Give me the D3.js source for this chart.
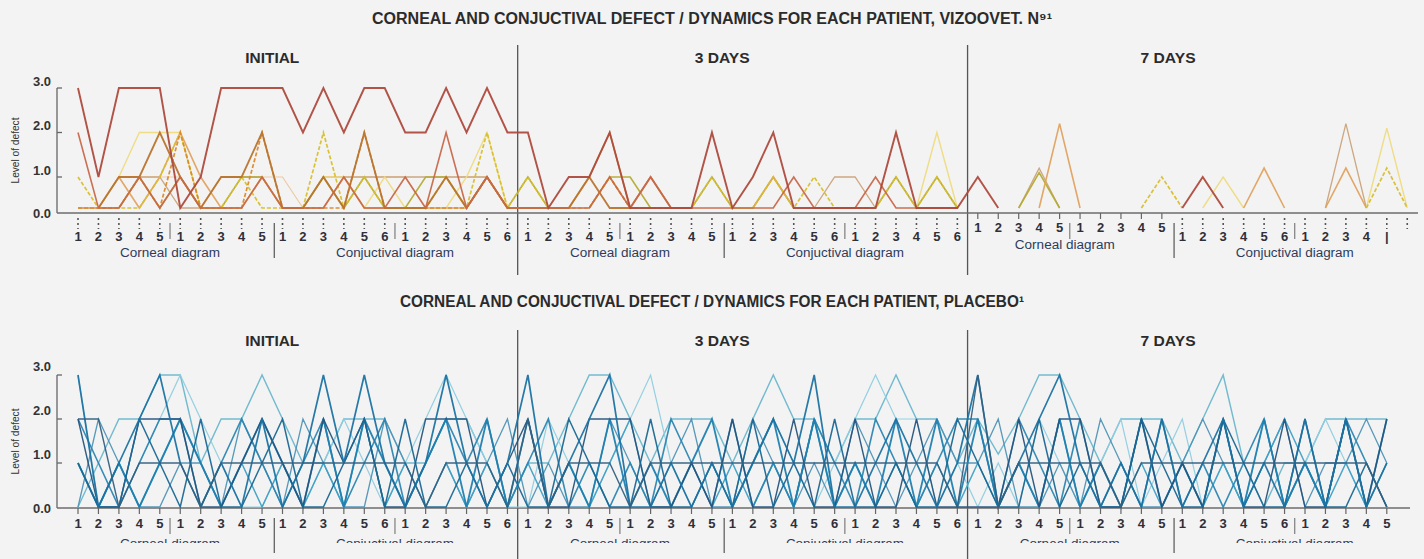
<!DOCTYPE html>
<html><head><meta charset="utf-8">
<script src="https://cdn.jsdelivr.net/npm/d3@7"></script>
<style>
body{margin:0;background:#f3f3f3;}
svg{display:block;}
text{font-family:"Liberation Sans","DejaVu Sans",sans-serif;}
</style></head><body>
<svg id="c" width="1424" height="559"></svg>
<script>
// ---------- DATA ----------
const titles = ["CORNEAL AND CONJUCTIVAL DEFECT / DYNAMICS FOR EACH PATIENT, VIZOOVET. N\u2079\u00B9",
                "CORNEAL AND CONJUCTIVAL DEFECT / DYNAMICS FOR EACH PATIENT, PLACEBO\u00B9"];
const periods = ["INITIAL", "3 DAYS", "7 DAYS"];
const groupNames = ["Corneal diagram", "Conjuctival diagram"];
const yTicks = [0, 1, 2, 3];
const yTitle = "Level of defect";
const periodLabels = ["1","2","3","4","5","1","2","3","4","5","1","2","3","4","5","6","1","2","3","4","5","6"];
const topLabels7 = ["1","2","3","4","5","1","2","3","4","5","1","2","3","4","5","6","1","2","3","4","|",""];
const bottomLabels7 = ["1","2","3","4","5","1","2","3","4","5","1","2","3","4","5","6","1","2","3","4","5"];
const topLabels = periodLabels.concat(periodLabels, topLabels7);
const bottomLabels = periodLabels.concat(periodLabels, bottomLabels7);

const _ = null;
// Vizoovet patients (66 slots)
const viz1 = [3,1,3,3,3,0,1,3,3,3,3,2,3,2,3,3,2,2,3,2,3,2, 2,0,1,1,2,0,0,0,0,2,0,1,2,0,0,0,0,0,2,0,0,0, 1,0,_,_,_,_,_,_,_,_,0,1,0,_,_,_,_,_,_,_,_,_];
const viz2 = [2,0,0,1,0,1,0,0,0,1,0,0,0,1,0,0,1,0,2,0,1,0, 0,0,0,0,1,0,1,0,0,0,0,0,0,1,0,0,0,1,0,0,0,0, _,_,_,_,_,_,_,_,_,_,_,_,_,_,_,_,_,_,_,_,_,_];
const viz3 = [_,0,1,1,2,1,0,1,1,2,0,0,1,0,2,0,0,0,1,0,1,0, 0,0,0,1,0,0,1,0,_,_,_,_,_,_,_,_,_,_,_,_,_,_, _,_,_,_,_,_,_,_,_,_,_,_,_,_,_,_,_,_,_,_,_,_];
const viz4 = [0,0,0,1,0,2,0,0,0,2,0,0,0,0,2,0,0,0,0,0,1,0, _,_,_,0,1,0,_,_,_,_,_,_,_,_,_,_,_,_,_,_,_,_, _,_,_,_,_,_,_,_,_,_,_,_,_,_,_,_,_,_,_,_,_,_];
const viz5 = [1,0,0,0,1,2,0,0,1,0,0,0,2,0,1,0,0,0,1,0,2,0, 1,0,0,0,1,0,0,0,0,1,0,0,1,0,1,0,0,0,1,0,1,0, _,_,_,_,_,_,_,_,0,1,0,_,_,_,_,_,_,_,_,0,1.2,0];
const viz6 = [_,0,1,2,2,2,0,0,0,1,0,0,1,1,0,1,0,0,0,1,2,0, 0,0,0,1,2,0,_,_,_,_,_,_,_,_,_,_,_,_,_,0,2,0, _,_,_,_,_,_,_,_,_,_,_,0,1,0,_,_,_,_,_,0,2.1,0];
const viz7 = [0,0,0,1,1,0,0,1,1,1,0,0,1,1,1,1,1,1,1,1,1,0, _,_,_,_,_,_,_,_,_,_,_,_,_,_,0,1,1,0,_,_,_,_, _,_,0,1.2,0,_,_,_,_,_,_,_,_,_,_,_,_,0,2.2,0,_,_];
const viz8 = [0,0,1,0,1,2,1,0,0,1,0,0,0,1,0,0,0,0,0,0,1,0, _,_,0,1,2,0,_,_,_,_,_,0,1,0,_,_,_,_,_,_,_,_, _,_,_,0,2.2,0,_,_,_,_,_,_,_,0,1.2,0,_,0,1.2,0,_,_];
const viz9 = [_,_,0,1,0,1,0,0,1,1,0,0,1,0,1,0,0,1,1,0,1,0, 1,0,_,0,1,1,0,_,0,1,0,0,1,0,_,_,_,0,1,0,1,0, _,_,0,1.1,0,_,_,_,_,_,_,_,_,_,_,_,_,_,_,_,_,_];
const viz10 = [_,_,1,1,1,1,0,0,0,1,1,0,0,1,1,1,1,0,1,1,1,0, _,_,_,_,_,_,_,_,_,_,_,_,_,_,_,_,_,_,_,_,_,_, _,_,_,_,_,_,_,_,_,_,_,_,_,_,_,_,_,_,_,_,_,_];

// Placebo patients (65 slots)
const pla1 = [0,1,2,2,3,3,1,2,2,3,2,1,1,2,2,2,1,1,2,2,1,0, 1,1,2,3,3,2,1,2,2,2,1,2,3,2,2,1,2,2,3,2,2,1, 2,1.2,2,3,3,2,1,2,2,2,1,2,3,1,0,1,1,2,2,2,2];
const pla2 = [2,2,0,1,1,1,0,1,1,1,1,1,1,1,1,1,1,0,1,1,1,0, 2,0,1,1,1,0,1,1,1,1,1,1,1,1,1,1,1,1,1,1,1,0, 3,0,1,1,1,1,1,0,1,1,1,1,1,1,1,1,1,1,1,1,0];
const pla3 = [1,0,1,0,1,2,1,0,1,2,1,0,2,0,2,1,0,1,2,0,2,0, 2,0,1,0,2,0,1,0,1,2,0,1,2,0,2,0,1,0,2,0,2,0, 2,0,1,0,2,0,1,0,2,0,1,0,2,0,2,0,1,0,2,0,2];
const pla4 = [3,0,1,2,3,1,0,1,0,2,0,1,3,1,3,1,0,1,3,1,0,1, 3,0,1,2,3,0,0,1,0,1,0,1,2,1,3,0,0,1,2,1,0,1, 3,0,1,2,3,1,0,1,0,2,0,1,2,0,1,0,2,0,2,0,1];
const pla5 = [1,0,1,0,1,2,1,0,1,0,1,0,1,0,2,0,1,0,1,0,1,0, 1,0,1,0,1,2,0,0,1,0,1,0,1,0,2,0,1,0,1,0,1,0, 1,0,1,0,2,0,1,0,1,0,1,0,1,0,1,2,1,0,1,0,1];
const pla6 = [2,0,0,2,2,2,0,0,1,2,1,0,2,1,2,0,0,2,2,2,0,1, 2,0,0,2,2,2,0,0,1,0,2,0,0,2,0,0,2,0,0,2,0,0, 0,0,2,0,2,2,0,0,2,0,1,0,2,0,0,2,0,0,2,0,2];
const pla7 = [3,0,0,1,2,3,2,1,0,0,1,0,1,2,1,0,1,2,3,2,1,0, 0,2,1,0,1,2,3,1,0,1,0,1,2,1,0,1,2,3,2,2,0,1, 0,1,0,2,1,0,1,2,0,1,2,0,1,0,2,0,1,2,1,0,1];
const pla8 = [2,1,0,1,2,2,0,1,2,1,0,1,2,0,1,2,0,1,2,1,2,0, 1,2,0,1,0,1,0,2,1,0,2,0,1,0,2,1,0,2,1,0,1,2, 2,0,2,1,0,2,0,1,0,2,0,1,0,1,2,0,1,0,2,1,0];
const pla9 = [0,2,1,0,0,1,1,0,2,1,0,2,1,0,0,2,1,0,1,0,1,2, 0,1,0,0,2,1,0,1,2,0,0,2,1,0,1,0,2,1,0,1,2,1, 1,2,0,0,1,0,2,1,0,0,1,2,1,0,1,2,0,1,1,2,1];
const pla10 = [1,0,0,2,1,0,2,0,0,1,2,0,0,1,2,0,2,0,0,1,0,1, 0,0,2,1,0,0,2,0,0,1,0,2,0,1,0,2,0,0,1,0,0,2, 1,0,0,2,0,1,0,0,2,1,0,0,2,1,0,0,2,0,0,1,0];

const vizSeries = [viz10, viz7, viz6, viz9, viz8, viz5, viz4, viz3, viz2, viz1];
const plaSeries = [pla1, pla7, pla9, pla5, pla8, pla3, pla6, pla10, pla4, pla2];

// ---------- STYLE ----------
const vizStyle = [
  {c:"#edc79e", w:1.2}, {c:"#caa27a", w:1.3}, {c:"#eedb80", w:1.4}, {c:"#b3ab34", w:1.6},
  {c:"#e0a25e", w:1.6}, {c:"#d8bf2c", w:1.7, d:"4,2"}, {c:"#d98a2b", w:1.7, d:"4,2"},
  {c:"#b8742e", w:1.8}, {c:"#c8684a", w:1.6}, {c:"#ad4a3c", w:1.9}
];
const plaStyle = [
  {c:"#6ab6cc", w:1.4}, {c:"#8fcde0", w:1.2}, {c:"#4f93b6", w:1.3}, {c:"#3fa0c6", w:1.5},
  {c:"#2c86b2", w:1.6}, {c:"#1f80b0", w:1.8}, {c:"#26547e", w:1.4}, {c:"#1a6794", w:1.5},
  {c:"#1b72a2", w:1.7}, {c:"#34607f", w:1.4}
];

const svg = d3.select("#c");
const x = d3.scaleLinear().domain([0, 65]).range([78, 78 + 65 * 20.45]);

function drawChart(cfg) {
  const g = svg.append("g");
  const y = cfg.y;
  // title
  g.append("text").attr("x", cfg.titleX).attr("y", cfg.titleY)
    .attr("font-size", 16).attr("font-weight", "bold").attr("fill", "#2b2b2b")
    .attr("textLength", cfg.titleW).attr("lengthAdjust", "spacingAndGlyphs").text(cfg.title);
  // period headings
  periods.forEach((p, k) => {
    g.append("text").attr("x", x(k * 22 + 9.5) + (k === 2 ? -4 : 0)).attr("y", cfg.headY)
      .attr("text-anchor", "middle").attr("font-size", 15).attr("font-weight", "bold")
      .attr("fill", "#2b2b2b").attr("textLength", p === "INITIAL" ? 54 : 55)
      .attr("lengthAdjust", "spacingAndGlyphs").text(p);
  });
  // period separators
  [21.5, 43.5].forEach(s => {
    g.append("line").attr("x1", x(s)).attr("x2", x(s)).attr("y1", cfg.sepTop).attr("y2", cfg.sepBottom)
      .attr("stroke", "#555").attr("stroke-width", 1.3);
  });
  // y axis bracket
  const y0 = cfg.axisY;
  g.append("line").attr("x1", 57).attr("x2", 57).attr("y1", y(3)).attr("y2", y0).attr("stroke", "#666").attr("stroke-width", 1.3);
  yTicks.forEach(t => {
    if (t > 0) g.append("line").attr("x1", 57).attr("x2", 62).attr("y1", y(t)).attr("y2", y(t)).attr("stroke", "#666").attr("stroke-width", 1.3);
    g.append("text").attr("x", 51).attr("y", t === 0 ? y0 : y(t) - cfg.labOff).attr("dy", "0.35em")
      .attr("text-anchor", "end").attr("font-size", 13).attr("font-weight", "bold").attr("fill", "#333")
      .attr("textLength", 18).attr("lengthAdjust", "spacingAndGlyphs")
      .text(d3.format(".1f")(t));
  });
  g.append("text").attr("transform", `translate(19,${(y(3) + y0) / 2}) rotate(-90)`)
    .attr("text-anchor", "middle").attr("font-size", 11).attr("fill", "#333")
    .attr("textLength", 66).attr("lengthAdjust", "spacingAndGlyphs").text(yTitle);
  // x axis line
  g.append("line").attr("x1", 57).attr("x2", cfg.axisEnd).attr("y1", y0).attr("y2", y0)
    .attr("stroke", "#6d6d6d").attr("stroke-width", 1.6);

  // series
  const line = d3.line().defined(d => d != null).x((d, i) => x(i)).y(d => y(d));
  cfg.series.forEach((s, k) => {
    const st = cfg.styles[k];
    g.append("path").datum(s).attr("d", line).attr("fill", "none")
      .attr("stroke", st.c).attr("stroke-width", st.w).attr("stroke-linejoin", "miter")
      .attr("stroke-dasharray", st.d || null).attr("opacity", 0.95);
  });

  // ticks and labels
  cfg.labels.forEach((lab, i) => {
    const raised = cfg.raised && cfg.raised(i);
    if (cfg.dotted && !raised) {
      g.append("line").attr("x1", x(i)).attr("x2", x(i)).attr("y1", y0 + 5).attr("y2", y0 + 16)
        .attr("stroke", "#555").attr("stroke-width", 1.6).attr("stroke-dasharray", "2,3");
    } else {
      g.append("line").attr("x1", x(i)).attr("x2", x(i)).attr("y1", y0).attr("y2", y0 + 6)
        .attr("stroke", "#666").attr("stroke-width", 1.2);
    }
    g.append("text").attr("x", x(i)).attr("y", raised ? y0 + 14 : cfg.labY).attr("dy", "0.35em")
      .attr("text-anchor", "middle").attr("font-size", 13).attr("font-weight", "bold").attr("fill", "#2f2f3a")
      .text(lab);
  });
  // group separators
  [9.5, 31.5, 53.5].forEach(s => {
    g.append("line").attr("x1", x(s) + 2).attr("x2", x(s) + 2).attr("y1", y0 + 10).attr("y2", y0 + 45)
      .attr("stroke", "#555").attr("stroke-width", 1.2);
  });
  [4.5, 15.5, 26.5, 37.5, 48.5, 59.5].forEach(s => {
    g.append("line").attr("x1", x(s)).attr("x2", x(s)).attr("y1", y0 + 10).attr("y2", y0 + 26)
      .attr("stroke", "#666").attr("stroke-width", 1);
  });
  // group names
  const clipId = "clip" + cfg.titleY;
  g.append("clipPath").attr("id", clipId).append("rect").attr("x", 0).attr("y", 0).attr("width", 1424).attr("height", cfg.clipH);
  const gg = g.append("g").attr("clip-path", `url(#${clipId})`);
  [4.5, 15.5, 26.5, 37.5, 48.5, 59.5].forEach((s, k) => {
    let gx = x(s), gy = cfg.groupY;
    if (cfg.raised && k === 4) { gx -= 5; gy -= 8; }
    gg.append("text").attr("x", gx).attr("y", gy).attr("dy", "0.35em").attr("text-anchor", "middle")
      .attr("font-size", 12.5).attr("fill", "#2e3b5c")
      .attr("textLength", k % 2 ? 118 : 100).attr("lengthAdjust", "spacingAndGlyphs")
      .text(groupNames[k % 2]);
  });
}

drawChart({
  title: titles[0], titleX: 372, titleW: 680, titleY: 24, headY: 63, sepTop: 45, sepBottom: 275,
  y: d3.scaleLinear().domain([0, 1, 3]).range([208, 177, 88]), axisY: 213, axisEnd: 1418, labOff: 7,
  series: vizSeries, styles: vizStyle, labels: topLabels, labY: 236, groupY: 253, clipH: 559,
  dotted: true, raised: i => i >= 44 && i <= 53
});
drawChart({
  title: titles[1], titleX: 400, titleW: 624, titleY: 307, headY: 346, sepTop: 330, sepBottom: 559,
  y: d3.scaleLinear().domain([0, 3]).range([507, 375]), axisY: 508, axisEnd: 1410, labOff: 9,
  series: plaSeries, styles: plaStyle, labels: bottomLabels, labY: 523, groupY: 544, clipH: 543,
  dotted: false, raised: null
});
</script>
</body></html>
